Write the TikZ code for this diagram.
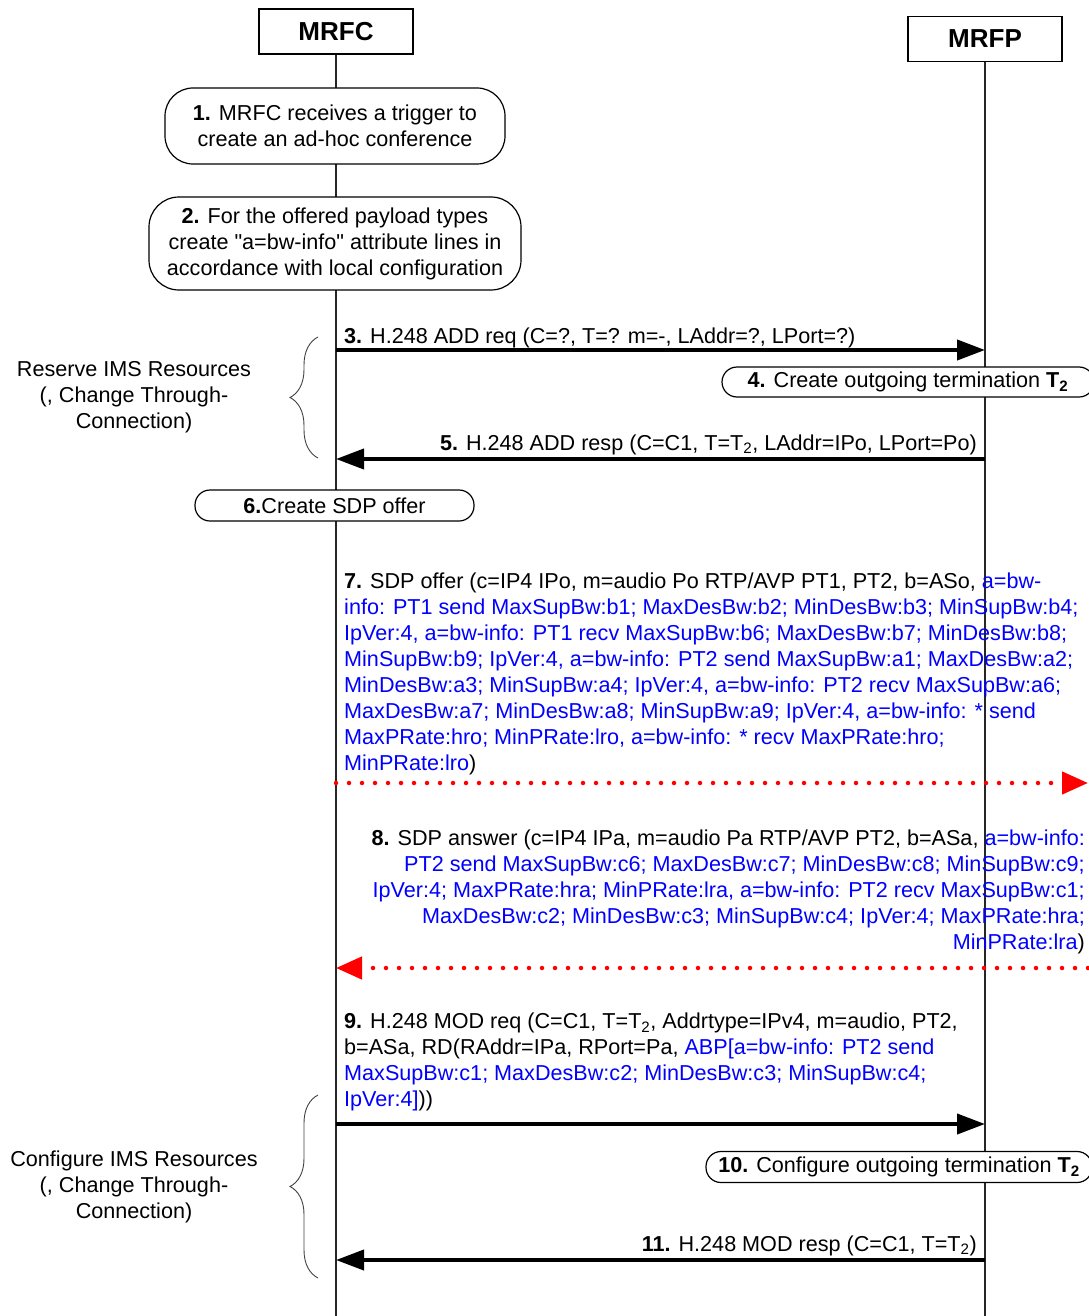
\documentclass[tikz,border=0pt]{standalone}
\usepackage{fontspec}
\setmainfont{Liberation Sans}[Ligatures=TeXOff]
\usetikzlibrary{arrows.meta,calc,positioning,decorations.pathreplacing}
\definecolor{bwblue}{RGB}{0,0,255}
\definecolor{sdpred}{RGB}{255,0,0}
\newcommand{\bw}[1]{\textcolor{bwblue}{#1}}

\begin{document}
\begin{tikzpicture}[x=1pt,y=-1pt,
  txt/.style={font=\fontsize{21.6}{26}\selectfont,inner sep=0},
  head/.style={draw,line width=1.5pt,fill=white,minimum width=154,minimum height=45,font=\fontsize{26}{30}\selectfont\bfseries},
  stepbox/.style={draw,line width=1.2pt,fill=white,rounded corners=#1,txt,align=center},
  lifeline/.style={line width=1.5pt,black!85},
  msg/.style={line width=4pt,-{Triangle[length=28pt,width=20pt]}},
  sdp/.style={sdpred,line width=4.5pt,line cap=round,dash pattern=on 0pt off 13pt,-{Triangle[length=26pt,width=22pt]}},
  grp/.style={decorate,decoration={brace,amplitude=28pt},line width=0.9pt,black!75}]
\useasboundingbox (0,0) rectangle (1088,1316);
% entities and lifelines
\node[head] (mrfc) at (336,31.5) {MRFC};
\node[head] (mrfp) at (985,39) {MRFP};
\coordinate (mrfcEnd) at (336,1316); \coordinate (mrfpEnd) at (985,1316);
\draw[lifeline] (mrfc) -- (mrfcEnd);
\draw[lifeline] (mrfp) -- (mrfpEnd);
\foreach \n/\y in {3/350,5/459,7/783,8/968,9/1124,11/1260}{\coordinate (c\n) at (336,\y); \coordinate (p\n) at (985,\y);}
\coordinate (e7) at (1088,783); \coordinate (e8) at (1088,968);
% local steps
\node[stepbox=28pt,minimum width=340,minimum height=76] (s1) at (335,126) {\textbf{1.} MRFC receives a trigger to\\create an ad-hoc conference};
\node[stepbox=30pt,minimum width=372,minimum height=93] (s2) at (335,243.5) {\textbf{2.} For the offered payload types\\create "a=bw-info" attribute lines in\\accordance with local configuration};
\node[stepbox=15pt,minimum width=372,minimum height=30] (s4) at (908,382) {\textbf{4.} Create outgoing termination \textbf{T\textsubscript{2}}};
\node[stepbox=15pt,minimum width=279,minimum height=31] (s6) at (334.5,505.5) {\textbf{6.}Create SDP offer};
\node[stepbox=15pt,minimum width=386,minimum height=31] (s10) at (899,1167) {\textbf{10.} Configure outgoing termination \textbf{T\textsubscript{2}}};
% messages
\node[txt,anchor=base west] (m3) at (344,343) {\textbf{3.} H.248 ADD req (C=?, T=? m=-, LAddr=?, LPort=?)};
\draw[msg] (c3) -- (p3);
\node[txt,anchor=base east] (m5) at (977,450) {\textbf{5.} H.248 ADD resp (C=C1, T=T\textsubscript{2}, LAddr=IPo, LPort=Po)};
\draw[msg] (p5) -- (c5);
\node[txt,anchor=north west,align=left] (m7) at (344,573) {\textbf{7.} SDP offer (c=IP4 IPo, m=audio Po RTP/AVP PT1, PT2, b=ASo, \bw{a=bw-}\\
\bw{info: PT1 send MaxSupBw:b1; MaxDesBw:b2; MinDesBw:b3; MinSupBw:b4;}\\
\bw{IpVer:4, a=bw-info: PT1 recv MaxSupBw:b6; MaxDesBw:b7; MinDesBw:b8;}\\
\bw{MinSupBw:b9; IpVer:4, a=bw-info: PT2 send MaxSupBw:a1; MaxDesBw:a2;}\\
\bw{MinDesBw:a3; MinSupBw:a4; IpVer:4, a=bw-info: PT2 recv MaxSupBw:a6;}\\
\bw{MaxDesBw:a7; MinDesBw:a8; MinSupBw:a9; IpVer:4, a=bw-info: * send}\\
\bw{MaxPRate:hro; MinPRate:lro, a=bw-info: * recv MaxPRate:hro;}\\
\bw{MinPRate:lro})};
\draw[sdp] (c7) -- (e7);
\node[txt,anchor=north east,align=right] (m8) at (1085,830) {\textbf{8.} SDP answer (c=IP4 IPa, m=audio Pa RTP/AVP PT2, b=ASa, \bw{a=bw-info:}\\
\bw{PT2 send MaxSupBw:c6; MaxDesBw:c7; MinDesBw:c8; MinSupBw:c9;}\\
\bw{IpVer:4; MaxPRate:hra; MinPRate:lra, a=bw-info: PT2 recv MaxSupBw:c1;}\\
\bw{MaxDesBw:c2; MinDesBw:c3; MinSupBw:c4; IpVer:4; MaxPRate:hra;}\\
\bw{MinPRate:lra})};
\draw[sdp] (e8) -- (c8);
\node[txt,anchor=north west,align=left] (m9) at (344,1013) {\textbf{9.} H.248 MOD req (C=C1, T=T\textsubscript{2}, Addrtype=IPv4, m=audio, PT2,\\
b=ASa, RD(RAddr=IPa, RPort=Pa, \bw{ABP[a=bw-info: PT2 send}\\
\bw{MaxSupBw:c1; MaxDesBw:c2; MinDesBw:c3; MinSupBw:c4;}\\
\bw{IpVer:4]}))};
\draw[msg] (c9) -- (p9);
\node[txt,anchor=base east] (m11) at (977,1251) {\textbf{11.} H.248 MOD resp (C=C1, T=T\textsubscript{2})};
\draw[msg] (p11) -- (c11);
% groups
\coordinate (g1a) at (318,458); \coordinate (g1b) at (318,337);
\coordinate (g2a) at (318,1278); \coordinate (g2b) at (318,1095);
\draw[grp] (g1a) -- (g1b);
\draw[grp] (g2a) -- (g2b);
\node[txt,align=center] (g1) at (134,397) {Reserve IMS Resources\\(, Change Through-\\Connection)};
\node[txt,align=center] (g2) at (134,1187) {Configure IMS Resources\\(, Change Through-\\Connection)};
\end{tikzpicture}
\end{document}
